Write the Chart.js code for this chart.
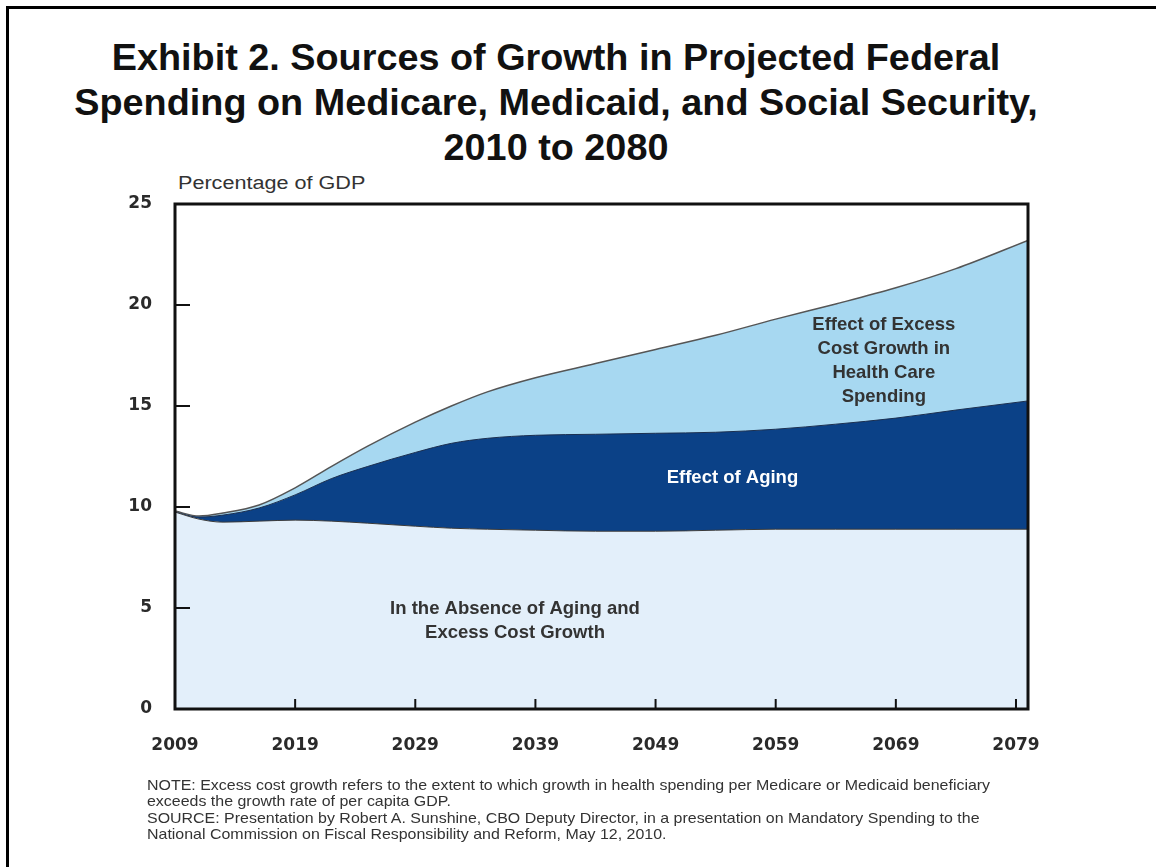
<!DOCTYPE html>
<html>
<head>
<script src="https://cdn.jsdelivr.net/npm/chart.js@4.4.0/dist/chart.umd.min.js"></script>
<style>
  body { margin: 0; background: #fff; width: 1156px; height: 867px; position: relative; overflow: hidden;
         font-family: "Liberation Sans", Arial, sans-serif; }
  #frame { position: absolute; left: 6px; top: 6px; width: 1200px; height: 900px;
           border-left: 3px solid #000; border-top: 3px solid #000; }
  #title { position: absolute; left: 0; width: 1112px; top: 35px; text-align: center;
           font-weight: bold; font-size: 36px; line-height: 45px; color: #111;
           transform: scaleX(1.05); transform-origin: 556px 0; }
  #ylab { position: absolute; left: 178px; top: 173px; font-size: 18px; color: #333;
          transform: scaleX(1.2); transform-origin: 0 0; }
  #notes { position: absolute; left: 147px; top: 777px; font-size: 14.5px; line-height: 16.3px; color: #333;
           white-space: nowrap; transform: scaleX(1.1); transform-origin: 0 0; }
  #chart { position: absolute; left: 0; top: 0; }
</style>
</head>
<body>
<div id="frame"></div>
<div id="title">Exhibit 2. Sources of Growth in Projected Federal<br>Spending on Medicare, Medicaid, and Social Security,<br>2010 to 2080</div>
<div id="ylab">Percentage of GDP</div>
<canvas id="chart" width="1156" height="867"></canvas>
<div id="notes">NOTE: Excess cost growth refers to the extent to which growth in health spending per Medicare or Medicaid beneficiary<br>exceeds the growth rate of per capita GDP.<br>SOURCE: Presentation by Robert A. Sunshine, CBO Deputy Director, in a presentation on Mandatory Spending to the<br>National Commission on Fiscal Responsibility and Reform, May 12, 2010.</div>
<script>
// percent of GDP (levels of each band's top edge)
const years = [2009, 2011, 2013, 2016, 2019, 2022, 2025, 2029, 2032, 2035, 2039, 2044, 2049, 2054, 2059, 2064, 2069, 2074, 2080]
const withoutAging = [9.75, 9.4, 9.25, 9.3, 9.35, 9.3, 9.2, 9.05, 8.95, 8.9, 8.85, 8.8, 8.8, 8.85, 8.9, 8.9, 8.9, 8.9, 8.9]
const withAging    = [9.75, 9.5, 9.6, 9.95, 10.6, 11.4, 12.0, 12.7, 13.15, 13.4, 13.55, 13.6, 13.65, 13.7, 13.85, 14.1, 14.4, 14.8, 15.25]
const withExcess   = [9.8, 9.55, 9.7, 10.1, 10.95, 12.0, 13.0, 14.2, 15.0, 15.7, 16.4, 17.1, 17.8, 18.5, 19.3, 20.05, 20.85, 21.8, 23.2]

const xTicks = [2009, 2019, 2029, 2039, 2049, 2059, 2069, 2079]
const yTicks = [0, 5, 10, 15, 20, 25]

// in-chart labels, placed in data units
const bandLabels = [
  { x: 2068, y: 19.0, color: '#333', lines: ['Effect of Excess', 'Cost Growth in', 'Health Care', 'Spending'] },
  { x: 2055.4, y: 11.45, color: '#fff', lines: ['Effect of Aging'] },
  { x: 2037.3, y: 4.95, color: '#333', lines: ['In the Absence of Aging and', 'Excess Cost Growth'] }
]

const pts = arr => years.map((yr, i) => ({ x: yr, y: arr[i] }))

const overlay = {
  id: 'overlay',
  afterDatasetsDraw(chart) {
    const { ctx, chartArea: a, scales: { x, y } } = chart
    ctx.save()
    ctx.strokeStyle = '#111'
    ctx.lineWidth = 2
    ctx.beginPath()
    yTicks.slice(1, -1).forEach(v => {
      const py = y.getPixelForValue(v)
      ctx.moveTo(a.left, py); ctx.lineTo(a.left + 15, py)
    })
    xTicks.slice(1).forEach(v => {
      const px = x.getPixelForValue(v)
      ctx.moveTo(px, a.bottom); ctx.lineTo(px, a.bottom - 10)
    })
    ctx.stroke()
    ctx.lineWidth = 3
    ctx.strokeRect(a.left, a.top, a.right - a.left, a.bottom - a.top)

    ctx.font = 'bold 18.5px "Liberation Sans", Arial, sans-serif'
    ctx.textAlign = 'center'
    ctx.textBaseline = 'middle'
    bandLabels.forEach(l => {
      ctx.fillStyle = l.color
      const px = x.getPixelForValue(l.x)
      const py = y.getPixelForValue(l.y)
      l.lines.forEach((t, i) => ctx.fillText(t, px, py + i * 24))
    })
    ctx.restore()
  }
}

const tickFont = { family: 'DejaVu Sans', weight: 'bold', size: 17 }

new Chart(document.getElementById('chart'), {
  type: 'line',
  data: {
    datasets: [
      { data: pts(withoutAging), fill: 'origin', backgroundColor: '#e3effa', borderColor: '#3a3a3a', borderWidth: 1 },
      { data: pts(withAging), fill: '-1', backgroundColor: '#0b4187', borderColor: '#1a2f50', borderWidth: 1 },
      { data: pts(withExcess), fill: '-1', backgroundColor: '#a7d8f1', borderColor: '#555', borderWidth: 1.5 }
    ]
  },
  options: {
    responsive: false,
    animation: false,
    devicePixelRatio: 1,
    layout: { padding: { top: 204, right: 128, left: 0, bottom: 0 } },
    elements: { point: { radius: 0 }, line: { cubicInterpolationMode: 'monotone' } },
    plugins: { legend: { display: false }, tooltip: { enabled: false } },
    scales: {
      x: {
        type: 'linear', min: 2009, max: 2080,
        afterBuildTicks: s => { s.ticks = xTicks.map(v => ({ value: v })) },
        afterFit: s => { s.height = 158 },
        grid: { display: false }, border: { display: false },
        ticks: { font: tickFont, color: '#2a2a2a', padding: 18, maxRotation: 0, autoSkip: false, callback: v => String(v) }
      },
      y: {
        min: 0, max: 25,
        afterBuildTicks: s => { s.ticks = yTicks.map(v => ({ value: v })) },
        afterFit: s => { s.width = 175 },
        grid: { display: false }, border: { display: false },
        ticks: { font: tickFont, color: '#2a2a2a', padding: 15 }
      }
    }
  },
  plugins: [overlay]
})
</script>
</body>
</html>
